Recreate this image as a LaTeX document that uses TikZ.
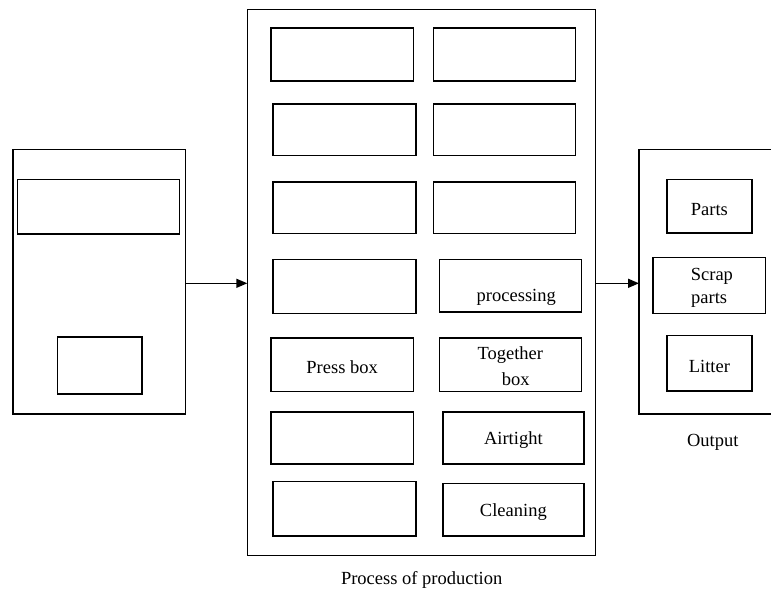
\documentclass[tikz,border=0pt]{standalone}
\usepackage{fontspec}
\setmainfont{Liberation Serif}
\usetikzlibrary{arrows.meta}
\tikzset{
  bx/.style={draw, line width=1.6pt, rectangle, inner sep=0pt, outer sep=0pt, align=center,
    font=\fontsize{18.5}{22}\selectfont},
  lbl/.style={inner sep=0pt, font=\fontsize{18.5}{22}\selectfont},
  arr/.style={line width=1.5pt, -{Triangle[length=11pt,width=9pt]}}
}
% \bx[options]{name}{x1}{y1}{x2}{y2}
\newcommand{\bx}[6][]{%
  \node[bx, minimum width={#5-#3}, minimum height={#6-#4}, #1] (#2) at ({(#3+#5)/2},{(#4+#6)/2}) {};}
\begin{document}
\begin{tikzpicture}[x=1pt,y=-1pt]
\clip (0,0) rectangle (771,590);
\fill[white] (0,0) rectangle (771,590);
% left
\bx{inp}{13}{149.3}{185.3}{414}
\bx{inA}{17.3}{179.3}{179.3}{233.7}
\bx{inB}{57.3}{337}{141.7}{393.7}
% middle
\bx{mid}{247.3}{9.3}{595.3}{555.3}
\bx{a1}{271}{27.7}{413.3}{81}
\bx{b1}{433.3}{27.7}{575.3}{81}
\bx{a2}{273}{103.7}{415.7}{155.3}
\bx{b2}{433.3}{103.7}{575.3}{155.3}
\bx{a3}{273}{181.7}{415.7}{233.3}
\bx{b3}{433.3}{181.7}{575.3}{233.3}
\bx[label={[lbl,yshift=-12pt,xshift=6pt]center:processing}]{b4}{439.3}{259.3}{581.3}{311.7}
\bx{a4}{273}{259.3}{415.7}{313.3}
\bx[label={[lbl,yshift=-3pt]center:Press box}]{a5}{271}{337.7}{413.3}{391.3}
\bx[label={[lbl,align=center,font=\fontsize{18.5}{26}\selectfont,yshift=-2pt]center:Together\\\hspace*{0.6em}box}]{b5}{439.3}{337.7}{581.3}{391.3}
\bx{a6}{271}{411.7}{413.3}{463.7}
\bx[label={[lbl,yshift=-2pt]center:Airtight}]{b6}{443}{411.7}{583.7}{463.7}
\bx{a7}{273}{481.3}{415.7}{535.7}
\bx[label={[lbl,yshift=-3pt]center:Cleaning}]{b7}{443}{483.3}{583.7}{535.7}
\node[lbl] (midlbl) at (421.7,580) {Process of production};
% right
\bx{out}{639}{149.3}{800}{414}
\bx[label={[lbl,yshift=-3pt]center:Parts}]{parts}{667}{179.3}{751.7}{233}
\bx[label={[lbl,align=center,font=\fontsize{18.5}{23}\selectfont,yshift=-3pt]center:\hspace*{0.3em}Scrap\\parts}]{scrap}{653}{257.3}{765.3}{313.3}
\bx[label={[lbl,yshift=-3pt]center:Litter}]{litter}{667}{335.3}{751.7}{391}
\node[lbl] (outlbl) at (712.7,442) {Output};
% arrows
\draw[arr] (inp.east |- 0,283.3) -- (mid.west |- 0,283.3);
\draw[arr] (mid.east |- 0,283.3) -- (out.west |- 0,283.3);
\end{tikzpicture}
\end{document}
